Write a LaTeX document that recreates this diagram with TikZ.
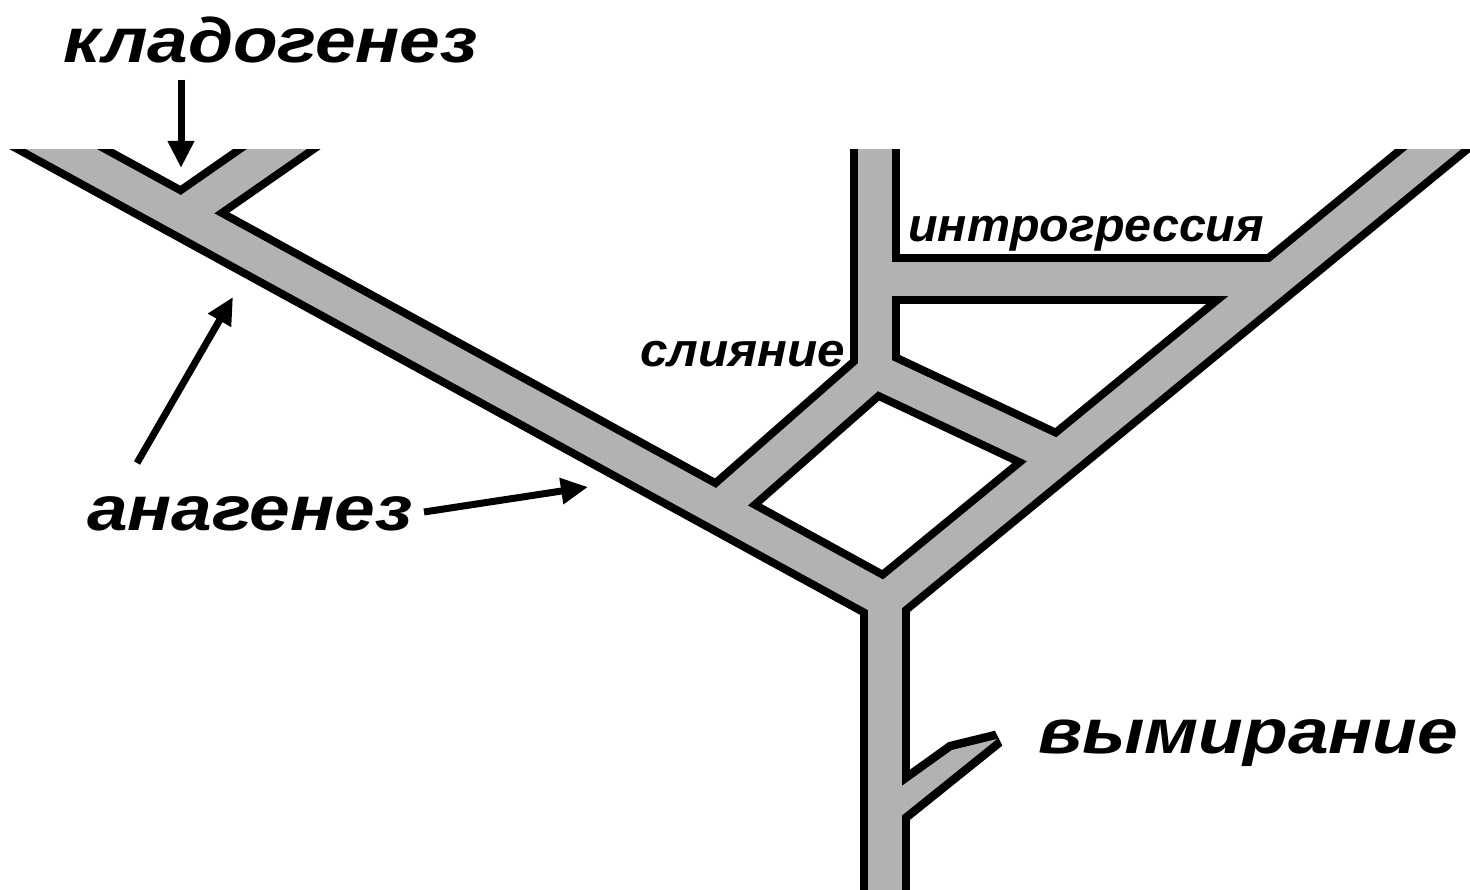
\documentclass[tikz,border=0pt]{standalone}
\usepackage{fontspec}
\setmainfont{Liberation Sans}
\newfontfamily\widelabelfont[FakeStretch=1.16]{Liberation Sans}
\newfontfamily\narrowlabelfont[FakeStretch=1.05]{Liberation Sans}
\newfontfamily\introlabelfont[FakeStretch=1.03]{Liberation Sans}
\usetikzlibrary{arrows.meta}
\definecolor{branchgray}{RGB}{178,178,178}
\begin{document}
\begin{tikzpicture}[x=1pt,y=-1pt,
  outline/.style={line width=50pt, black},
  core/.style={line width=34pt, branchgray},
  biglabel/.style={font=\widelabelfont\bfseries\itshape\fontsize{63}{70}\selectfont, inner sep=0pt, anchor=base west},
  smalllabel/.style={font=\narrowlabelfont\bfseries\itshape\fontsize{47}{54}\selectfont, inner sep=0pt, anchor=base west},
  introlabel/.style={font=\introlabelfont\bfseries\itshape\fontsize{47}{54}\selectfont, inner sep=0pt, anchor=base west},
  pointer/.style={line width=7pt, -{Triangle[length=27pt,width=25pt]}}]
\useasboundingbox (0,0) rectangle (1470,890);

% branching points of the lineages
\coordinate (J)  at (885,600);   % main fork
\coordinate (T)  at (885,900);   % trunk below the page edge
\coordinate (L)  at (-10,110);   % left lineage, beyond the top cut
\coordinate (R)  at (1482,110);  % right lineage, beyond the top cut
\coordinate (V)  at (875,110);   % hybrid lineage, beyond the top cut
\coordinate (N)  at (875,371);   % hybrid node
\coordinate (A)  at (718,509);   % hybrid joins left lineage
\coordinate (B)  at (1058,457);  % hybrid joins right lineage
\coordinate (I1) at (875,279);   % introgression start
\coordinate (I2) at (1276,279);  % introgression end
\coordinate (C1) at (182,215);   % cladogenesis split
\coordinate (C2) at (333,110);   % side branch, beyond the top cut

\begin{scope}
  \clip (0,150) rectangle (1470,890);
  % black outlines
  \foreach \p/\q in {L/J, R/J, J/T, V/N, N/A, N/B, I1/I2, C1/C2}
    \draw[outline] (\p) -- (\q);
  \filldraw[black, line width=17pt, line join=miter, miter limit=3]
    (885,798) -- (952,750) -- (997,739) -- (885,829) -- cycle;
  % grey cores
  \foreach \p/\q in {L/J, R/J, J/T, V/N, N/A, N/B, I1/I2, C1/C2}
    \draw[core] (\p) -- (\q);
  \fill[branchgray]
    (885,798) -- (952,750) -- (997,739) -- (885,829) -- cycle;
\end{scope}

% labels
\node[biglabel] (klado) at (63,63) {кладогенез};
\node[biglabel] (ana) at (87,530) {анагенез};
\node[biglabel] (extinct) at (1038,753) {вымирание};
\node[smalllabel] (fusion) at (640,367) {слияние};
\node[introlabel] (intro) at (908,242) {интрогрессия};

% pointers
\coordinate (kladoTail) at (181,80);
\coordinate (kladoTip)  at (181,168);
\coordinate (anaTailA)  at (137,463);
\coordinate (anaTipA)   at (233,297);
\coordinate (anaTailB)  at (424,512);
\coordinate (anaTipB)   at (588,487);
\draw[pointer] (kladoTail) -- (kladoTip);
\draw[pointer] (anaTailA) -- (anaTipA);
\draw[pointer] (anaTailB) -- (anaTipB);
\end{tikzpicture}
\end{document}
